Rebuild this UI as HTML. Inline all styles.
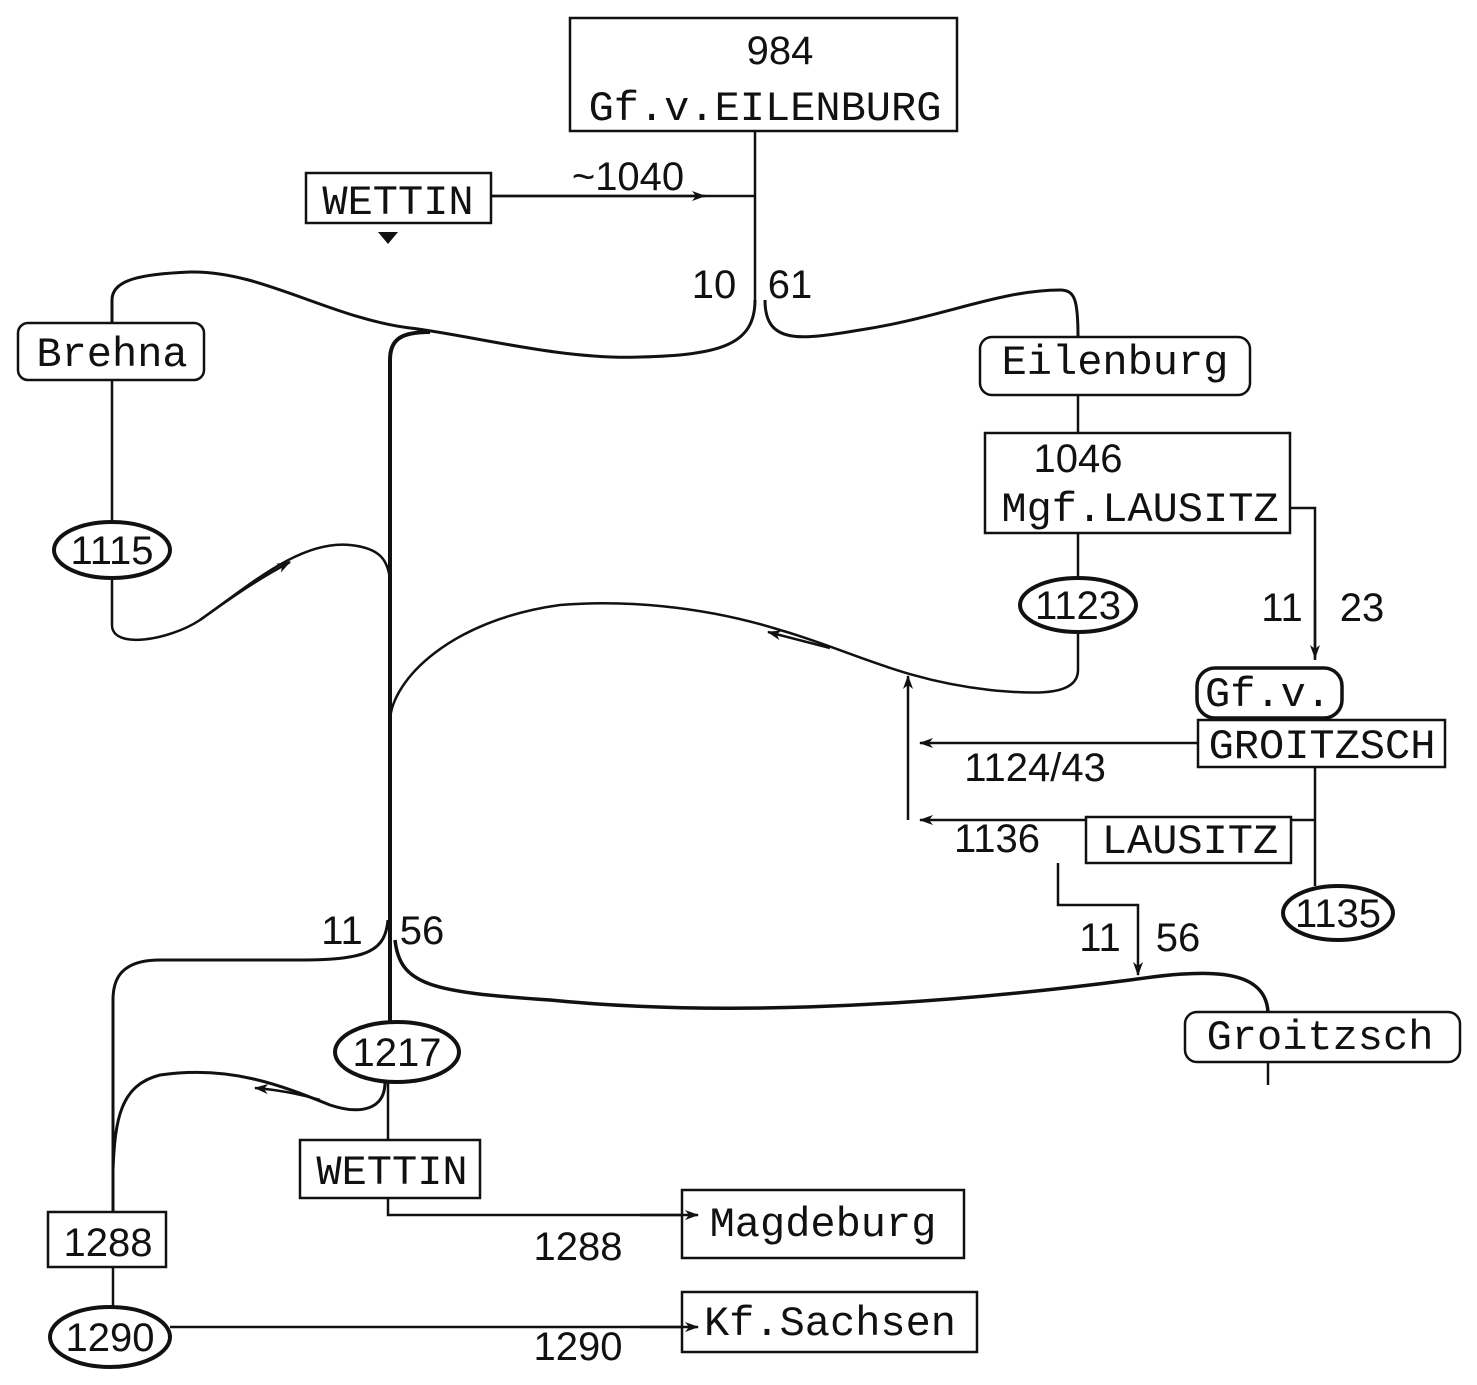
<!DOCTYPE html>
<html><head><meta charset="utf-8"><style>
html,body{margin:0;padding:0;background:#fff;}
svg{display:block;}
text{font-family:"Liberation Mono",monospace;fill:#111;}
.n{font-family:"Liberation Sans",sans-serif;}
</style></head><body>
<svg width="1477" height="1385" viewBox="0 0 1477 1385" xmlns="http://www.w3.org/2000/svg">
<defs><marker id="a" markerWidth="14" markerHeight="10" refX="13" refY="5" orient="auto" markerUnits="userSpaceOnUse"><path d="M0,0 L14,5 L0,10 L4,5z" fill="#111"/></marker></defs>
<g fill="none" stroke="#111" stroke-width="2.5">
<path d="M755,131 V300"/>
<path d="M491,196 H755" />
<path d="M491,196 H705" marker-end="url(#a)"/>
<path d="M755,300 C755,345 720,355 640,357 C560,360 470,335 410,328 C330,318 260,270 190,272 C140,274 112,280 112,300 V323" stroke-width="3"/>
<path d="M765,300 C765,345 800,340 860,330 C940,318 1000,290 1060,290 C1075,290 1078,300 1078,337" stroke-width="3"/>
<path d="M430,332 C400,332 390,340 390,360 V1022" stroke-width="4"/>
<path d="M112,380 V522 M112,578 V625 C112,650 170,640 200,620 C250,585 300,540 350,545 C380,548 388,560 390,580"/>
<path d="M200,620 C235,595 260,578 290,562" marker-end="url(#a)"/>
<path d="M1078,395 V433 M1078,533 V578"/>
<path d="M1078,632 V670 C1078,695 1040,695 990,690 C900,680 850,650 780,630 C700,605 620,600 560,605 C450,620 392,680 390,720"/>
<path d="M830,648 L768,632" marker-end="url(#a)"/>
<path d="M1290,508 H1315 V660" />
<path d="M1315,600 V658" marker-end="url(#a)"/>
<path d="M1198,743 H920" marker-end="url(#a)"/>
<path d="M908,820 V676" marker-end="url(#a)"/>
<path d="M1086,820 H920" marker-end="url(#a)"/>
<path d="M1290,820 H1315 M1315,767 V886"/>
<path d="M1058,863 V905 H1138 V975" marker-end="url(#a)"/>
<path d="M388,920 C385,950 370,960 300,960 L160,960 C120,960 113,980 113,1000 V1212" stroke-width="3"/>
<path d="M395,940 C400,985 430,992 550,1000 C700,1015 900,1010 1130,980 C1200,970 1265,965 1268,1012" stroke-width="3.5"/>
<path d="M1268,1062 V1085"/>
<path d="M385,1082 C385,1110 360,1115 330,1105 C280,1085 230,1065 160,1075 C120,1085 115,1120 113,1170" stroke-width="3"/>
<path d="M320,1100 C300,1094 280,1090 255,1088" marker-end="url(#a)"/>
<path d="M388,1082 V1140 M388,1198 V1215 H682" />
<path d="M113,1267 V1307"/>
<path d="M170,1327 H682"/>
</g>
<g fill="#fff" stroke="#111" stroke-width="2.5">
<rect x="570" y="18" width="387" height="113"/>
<rect x="306" y="173" width="185" height="50"/>
<rect x="18" y="323" width="186" height="57" rx="10"/>
<rect x="980" y="337" width="270" height="58" rx="12"/>
<rect x="985" y="433" width="305" height="100"/>
<rect x="1197" y="668" width="145" height="50" rx="18" stroke-width="3.5"/>
<rect x="1198" y="720" width="247" height="47"/>
<rect x="1086" y="817" width="205" height="46"/>
<rect x="1185" y="1012" width="275" height="50" rx="12"/>
<rect x="300" y="1140" width="180" height="58"/>
<rect x="682" y="1190" width="282" height="68"/>
<rect x="48" y="1212" width="118" height="55"/>
<rect x="682" y="1292" width="295" height="60"/>
</g>
<g fill="none" stroke="#111" stroke-width="2.5">
<path d="M640,1215 H698" marker-end="url(#a)"/>
<path d="M640,1327 H698" marker-end="url(#a)"/>
</g>
<g fill="#fff" stroke="#111" stroke-width="4">
<ellipse cx="112" cy="550" rx="58" ry="28"/>
<ellipse cx="1078" cy="605" rx="58" ry="27"/>
<ellipse cx="1338" cy="913" rx="55" ry="27"/>
<ellipse cx="397" cy="1052" rx="62" ry="30"/>
<ellipse cx="110" cy="1337" rx="60" ry="30"/>
</g>
<path d="M378,232 L398,232 L388,244z" fill="#111"/>
<g font-size="42" text-anchor="middle">
<text x="780" y="64" class="n" font-size="40">984</text>
<text x="765" y="120">Gf.v.EILENBURG</text>
<text x="398" y="214">WETTIN</text>
<text x="628" y="190" class="n" font-size="40">~1040</text>
<text x="714" y="298" class="n" font-size="40">10</text>
<text x="790" y="298" class="n" font-size="40">61</text>
<text x="112" y="366">Brehna</text>
<text x="112" y="564" class="n" font-size="40">1115</text>
<text x="1115" y="374">Eilenburg</text>
<text x="1078" y="472" class="n" font-size="40">1046</text>
<text x="1140" y="521">Mgf.LAUSITZ</text>
<text x="1078" y="619" class="n" font-size="40">1123</text>
<text x="1282" y="621" class="n" font-size="40">11</text>
<text x="1362" y="621" class="n" font-size="40">23</text>
<text x="1268" y="706">Gf.v.</text>
<text x="1322" y="758">GROITZSCH</text>
<text x="1035" y="781" class="n" font-size="40">1124/43</text>
<text x="1190" y="853">LAUSITZ</text>
<text x="997" y="852" class="n" font-size="40">1136</text>
<text x="1338" y="927" class="n" font-size="40">1135</text>
<text x="1100" y="951" class="n" font-size="40">11</text>
<text x="1178" y="951" class="n" font-size="40">56</text>
<text x="342" y="944" class="n" font-size="40">11</text>
<text x="422" y="944" class="n" font-size="40">56</text>
<text x="1320" y="1049">Groitzsch</text>
<text x="397" y="1066" class="n" font-size="40">1217</text>
<text x="392" y="1184">WETTIN</text>
<text x="823" y="1236">Magdeburg</text>
<text x="578" y="1260" class="n" font-size="40">1288</text>
<text x="108" y="1256" class="n" font-size="40">1288</text>
<text x="110" y="1351" class="n" font-size="40">1290</text>
<text x="578" y="1360" class="n" font-size="40">1290</text>
<text x="830" y="1335">Kf.Sachsen</text>
</g>
</svg>
</body></html>
